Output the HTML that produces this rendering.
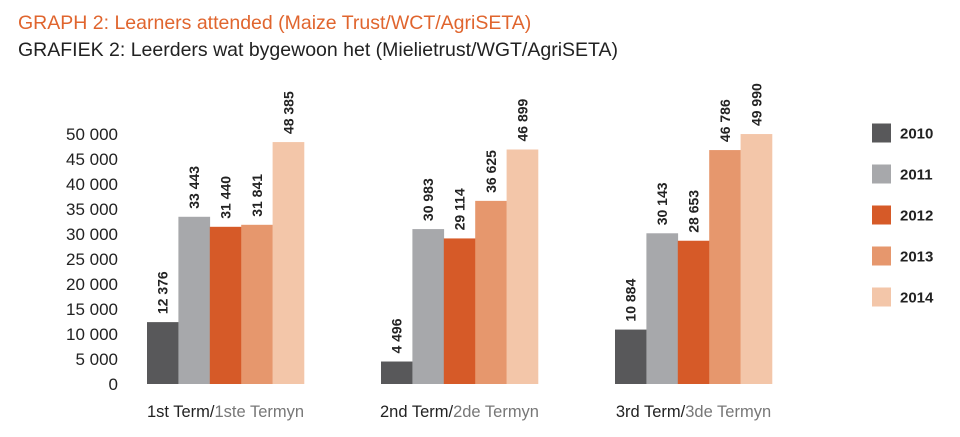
<!DOCTYPE html>
<html><head><meta charset="utf-8"><style>
body{margin:0;background:#fff;width:960px;height:432px;overflow:hidden;font-family:"Liberation Sans",sans-serif}
</style></head><body>
<svg width="960" height="432">
<text x="18" y="29" font-size="19.5" fill="#e0652e">GRAPH 2: Learners attended (Maize Trust/WCT/AgriSETA)</text>
<text x="18" y="56" font-size="19.5" fill="#222">GRAFIEK 2: Leerders wat bygewoon het (Mielietrust/WGT/AgriSETA)</text>
<g id="yaxis"></g><g id="bars"></g><g id="cats"></g><g id="legend"></g>
</svg>
<script>
const categories=["1st Term","2nd Term","3rd Term"];
const categoriesAf=["1ste Termyn","2de Termyn","3de Termyn"];
const seriesNames=["2010","2011","2012","2013","2014"];
const s2010=[12376,4496,10884];
const s2011=[33443,30983,30143];
const s2012=[31440,29114,28653];
const s2013=[31841,36625,46786];
const s2014=[48385,46899,49990];
const yTicks=[0,5000,10000,15000,20000,25000,30000,35000,40000,45000,50000];
const series=[s2010,s2011,s2012,s2013,s2014];
const colors=["#58585a","#a7a8ab","#d65a28","#e6976d","#f3c6a9"];
const NS="http://www.w3.org/2000/svg";
const y0=384,yTop=134,yMax=50000;
const y=v=>y0-(v/yMax)*(y0-yTop);
const gx=i=>147+i*234, bw=31.4;
const fmt=v=>String(v).replace(/\B(?=(\d{3})+(?!\d))/g," ");
function mk(t,a,p){const e=document.createElementNS(NS,t);for(const k in a)e.setAttribute(k,a[k]);p.appendChild(e);return e;}
const ya=document.getElementById('yaxis');
yTicks.forEach(v=>{const t=mk('text',{x:118,y:y(v)+6,'font-size':17,'text-anchor':'end',fill:'#222'},ya);t.textContent=fmt(v);

});
const bg=document.getElementById('bars');
categories.forEach((c,i)=>{series.forEach((s,j)=>{
const x=gx(i)+j*bw;
const r=mk('rect',{x:x,y:y(s[i]),width:bw+0.3,height:y0-y(s[i]),fill:colors[j]},bg);


const cx=x+bw/2+5,ty=y(s[i])-8;
const t=mk('text',{x:cx,y:ty,'font-size':14,'font-weight':'bold',fill:'#222',transform:`rotate(-90 ${cx} ${ty})`},bg);t.textContent=fmt(s[i]);


});
const t=mk('text',{x:gx(i)+bw*2.5,y:417,'font-size':16.5,'text-anchor':'middle',fill:'#222'},document.getElementById('cats'));
t.innerHTML=c+'/<tspan fill="#777">'+categoriesAf[i]+'</tspan>';


});
const lg=document.getElementById('legend');
seriesNames.forEach((n,j)=>{const cy=133+j*41;
const r=mk('rect',{x:872,y:cy-9.5,width:19,height:19,fill:colors[j]},lg);


const t=mk('text',{x:900,y:cy+5.5,'font-size':15,'font-weight':'bold',fill:'#222'},lg);t.textContent=n;

});
</script>
</body></html>
